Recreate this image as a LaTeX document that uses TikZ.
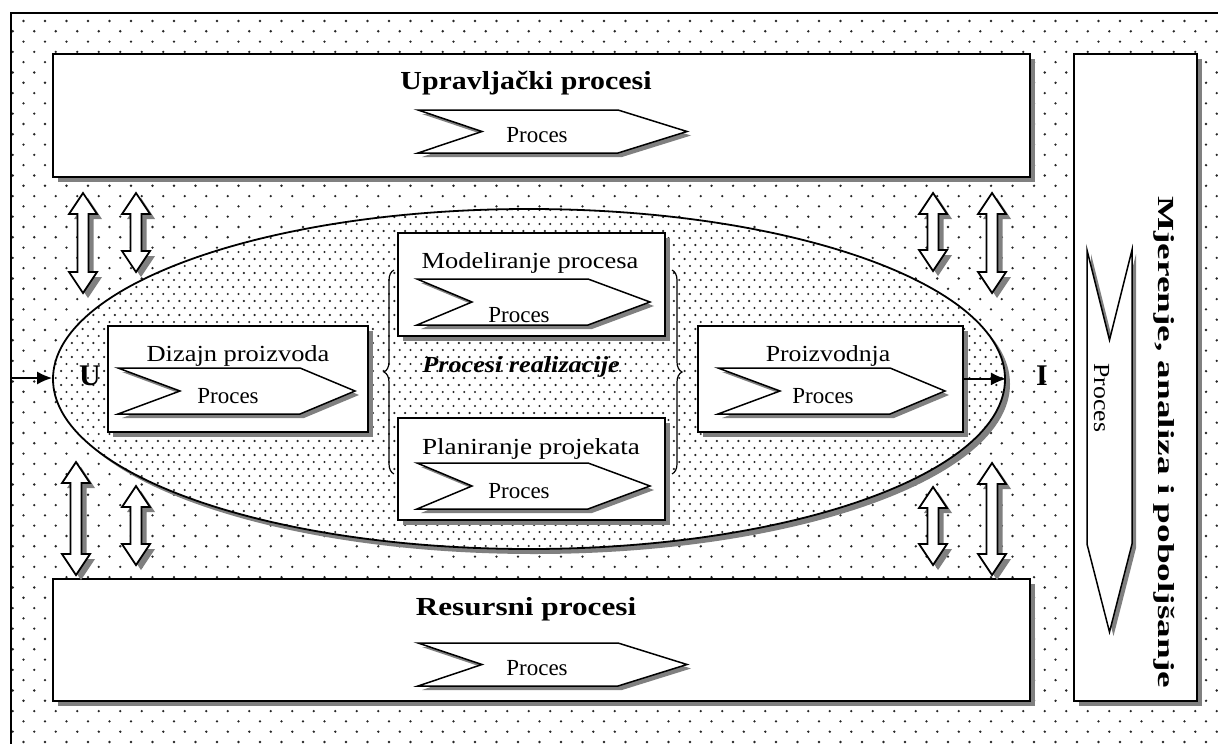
\documentclass[tikz,border=0pt]{standalone}
\usepackage{fontspec}
\setmainfont{Liberation Serif}
\usepackage{graphicx}
\usetikzlibrary{patterns,shadows,shapes.geometric,decorations.pathreplacing,arrows.meta}
\pgfdeclarepatternformonly{bgdots}{\pgfqpoint{-1pt}{-1pt}}{\pgfqpoint{22.5pt}{21.6pt}}{\pgfqpoint{21.5pt}{20.6pt}}{%
  \pgfpathcircle{\pgfqpoint{2pt}{2pt}}{1.3pt}%
  \pgfpathcircle{\pgfqpoint{12.75pt}{12.3pt}}{1.3pt}%
  \pgfusepath{fill}}
\pgfdeclarepatternformonly{indots}{\pgfqpoint{-1pt}{-1pt}}{\pgfqpoint{11.75pt}{15pt}}{\pgfqpoint{10.75pt}{14pt}}{%
  \pgfpathcircle{\pgfqpoint{2pt}{2pt}}{1.2pt}%
  \pgfpathcircle{\pgfqpoint{7.375pt}{9pt}}{1.2pt}%
  \pgfusepath{fill}}
% horizontal chevron: x1, x2, ytop, ybot, notch depth, point depth
\newcommand\chevH[6]{\draw[chev] (#1,#3) -- ({#2-#6},#3) -- (#2,{(#3+#4)/2}) -- ({#2-#6},#4) -- (#1,#4) -- ({#1+#5},{(#3+#4)/2}) -- cycle;}
% vertical chevron pointing down: xl, xr, ytop, ybot, notch depth, point depth
\newcommand\chevV[6]{\draw[chev] (#1,#3) -- ({(#1+#2)/2},{#3+#5}) -- (#2,#3) -- (#2,{#4-#6}) -- ({(#1+#2)/2},#4) -- (#1,{#4-#6}) -- cycle;}
% double arrow: cx, ytop, ybot
\newcommand\dblarrow[3]{\draw[dbl] (#1,#2) -- ({#1+14},{#2+21}) -- ({#1+5.5},{#2+21}) -- ({#1+5.5},{#3-21}) -- ({#1+14},{#3-21}) -- (#1,#3) -- ({#1-14},{#3-21}) -- ({#1-5.5},{#3-21}) -- ({#1-5.5},{#2+21}) -- ({#1-14},{#2+21}) -- cycle;}
\tikzset{
  sh/.style={drop shadow={shadow xshift=5pt, shadow yshift=-5pt, fill=black!50, opacity=1}},
  box/.style={draw, line width=1.8pt, fill=white, sh, anchor=north west, inner sep=0pt},
  chev/.style={draw, line width=1.5pt, fill=white, line join=miter,
    drop shadow={shadow xshift=4pt, shadow yshift=-4pt, fill=black!50, opacity=1}},
  dbl/.style={draw, line width=1.8pt, fill=white, line join=miter, sh},
  lbl/.style={anchor=base, inner sep=0pt},
  reg/.style={lbl, font=\fontsize{23}{27}\selectfont},
  bld/.style={lbl, font=\fontsize{26}{30}\selectfont\bfseries},
  brc/.style={decorate, decoration={brace, amplitude=10pt}, line width=1.2pt},
  inarrow/.style={line width=1.6pt, -{Latex[length=15pt,width=13pt]}}
}
\begin{document}
\begin{tikzpicture}[x=1pt,y=-1pt]
\useasboundingbox (0,0) rectangle (1218,744);
\clip (0,0) rectangle (1218,744);
\fill[white] (0,0) rectangle (1218,744);
% dotted background and frame
\fill[pattern=bgdots, pattern color=black!85] (11,13) rectangle (1240,760);
\draw[line width=1.6pt] (11,760) -- (11,13) -- (1240,13);
% outer boxes
\node[box, minimum width=977, minimum height=123] (upr) at (52,53) {};
\node[box, minimum width=977, minimum height=122] (res) at (52,578) {};
\node[box, minimum width=123, minimum height=647] (mjr) at (1073,53) {};
% double arrows
\dblarrow{83}{193}{293}
\dblarrow{136}{193}{272}
\dblarrow{933}{193}{271}
\dblarrow{992}{193}{293}
\dblarrow{76}{462}{575}
\dblarrow{136}{486}{565}
\dblarrow{933}{487}{565}
\dblarrow{992}{463}{575}
% ellipse
\node[ellipse, draw, line width=1.8pt, minimum width=952, minimum height=340, inner sep=0pt,
  sh, preaction={fill=white}, pattern=indots, pattern color=black!85] (ell) at (529,379) {};
% inner boxes
\node[box, minimum width=260, minimum height=106] (diz) at (107,325) {};
\node[box, minimum width=267, minimum height=103] (mod) at (397,232) {};
\node[box, minimum width=267, minimum height=102] (pla) at (397,417) {};
\node[box, minimum width=265, minimum height=106] (pro) at (697,325) {};
% chevrons
\chevH{418}{687}{110}{153}{64}{69}
\chevH{418}{687}{643}{686}{64}{69}
\chevH{118}{355}{368}{414}{62}{55}
\chevH{417}{650}{279}{325}{55}{62}
\chevH{417}{650}{463}{509}{55}{62}
\chevH{718}{945}{368}{414}{62}{55}
\chevV{1087}{1132}{250}{632}{90}{88}
% titles
\node[bld] (uprT) at (526,89) {\scalebox{1.15}[1]{Upravljački procesi}};
\node[bld] (resT) at (526,615) {\scalebox{1.2}[1]{Resursni procesi}};
\node[reg] (dizT) at (238,361) {\scalebox{1.15}[1]{Dizajn proizvoda}};
\node[reg] (modT) at (530,268) {\scalebox{1.15}[1]{Modeliranje procesa}};
\node[reg] (plaT) at (531,454) {\scalebox{1.18}[1]{Planiranje projekata}};
\node[reg] (proT) at (828,361) {\scalebox{1.12}[1]{Proizvodnja}};
\node[reg, font=\fontsize{23}{27}\selectfont\bfseries\itshape] (realT) at (521,372) {\scalebox{1.14}[1]{Procesi realizacije}};
\node[lbl, rotate=-90, font=\fontsize{23}{27}\selectfont\bfseries] (mjrT) at (1158,442) {\scalebox{1.62}[1]{Mjerenje, analiza i poboljšanje}};
% Proces labels
\node[reg] (p1) at (537,142) {Proces};
\node[reg] (p2) at (537,675) {Proces};
\node[reg] (p3) at (228,403) {Proces};
\node[reg] (p4) at (519,322) {Proces};
\node[reg] (p5) at (519,498) {Proces};
\node[reg] (p6) at (823,403) {Proces};
\node[lbl, rotate=-90, font=\fontsize{23}{27}\selectfont] (p7) at (1094,398) {\scalebox{1.12}[1]{Proces}};
% braces
\coordinate (lbB) at (394,474);
\coordinate (lbT) at (394,270);
\coordinate (rbT) at (672,270);
\coordinate (rbB) at (672,474);
\draw[brc] (lbB) -- (lbT);
\draw[brc] (rbT) -- (rbB);
% U and I
\coordinate (uin) at (11,378);
\draw[inarrow] (uin) -- (ell.west |- uin);
\draw[inarrow] (pro.east) -- (pro.east -| ell.east);
\node[font=\fontsize{30}{34}\selectfont\bfseries, inner sep=0pt] (uL) at (90,376) {U};
\node[font=\fontsize{30}{34}\selectfont\bfseries, inner sep=0pt] (iL) at (1042,376) {I};
\end{tikzpicture}
\end{document}
